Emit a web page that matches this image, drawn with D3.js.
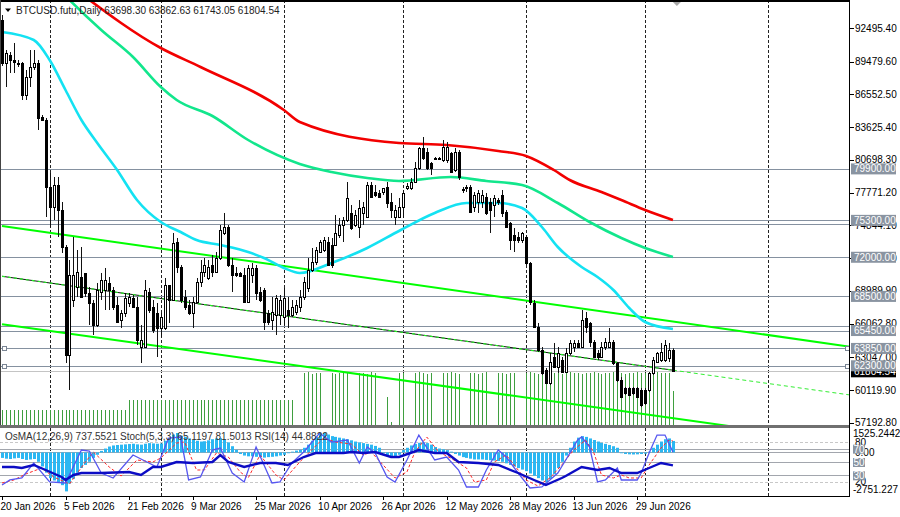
<!DOCTYPE html>
<html><head><meta charset="utf-8">
<script src="https://cdn.jsdelivr.net/npm/d3@7"></script>
<style>body{margin:0;background:#fff}svg{display:block}text{font-family:"Liberation Sans",Arial,sans-serif;font-size:10px}</style>
</head><body><svg id="c" width="900" height="517"></svg>
<script>
// ---------- DATA ----------
const symbolTitle = "BTCUSD.futu,Daily";
const startDate = "2026-01-20";
const opens = [93212,89368,90083,89636,89368,89368,86507,88116,89010,89368,84540,84272,78282,76494,78461,76226,72918,63263,68180,69342,70236,70594,68806,67912,65945,68895,69074,69700,69074,67733,66392,67018,67912,68359,67554,63978,63978,68895,67554,67018,65677,65677,69521,68180,73365,71130,68448,67733,67018,68001,69789,70683,70147,71309,70683,71935,74170,74706,71309,70594,70594,70415,68001,70415,71041,68895,69074,67018,66392,66839,66839,66660,67286,66839,67107,67554,68448,69253,70862,71577,72471,72650,73365,73097,73097,73991,74885,75332,75958,74885,74706,75958,75600,78461,77835,77746,77835,78282,76941,75600,75600,76494,78193,78193,78729,79981,81769,81411,80428,80875,80875,80696,80696,81322,79802,81411,78014,78193,78282,76494,76941,76941,77388,76941,76673,77120,77567,76047,75064,73991,73812,73544,73812,71488,67912,65766,63710,61922,60760,63084,62190,62816,61743,63442,63978,64336,63978,66571,66124,64425,63442,63084,63978,63978,64425,62548,61028,60313,60313,60313,60313,60134,60134,60134,61654,62637,62816,62816,62995,63698.30];
const highs = [93659,90530,90351,91156,89636,89457,88742,90530,90530,89636,84719,84451,79534,79176,79176,76941,73097,71756,73812,72650,72918,70594,69342,68180,69700,70594,71041,70236,69342,68448,67286,68806,68806,68627,68448,65945,69968,69253,68180,67912,67018,70147,69521,74170,73723,71309,69074,68180,68448,70147,71756,71935,71756,72203,72471,74885,75958,74885,71935,71130,70683,71041,71309,71488,71309,69342,69253,67286,68448,68627,68627,69253,68448,68180,68180,69074,70236,71935,72829,72918,73544,73812,73812,73723,75779,75511,75600,78729,76673,76226,77120,76941,78729,78729,78461,78014,78193,78729,77746,76673,77299,78014,78640,79087,80517,81858,82752,81769,80517,80964,80964,82484,82305,81411,81769,81590,78282,78461,78461,77835,78014,78014,77746,77299,77567,77299,78014,76226,75153,74617,74259,74259,73991,71577,68180,66124,63978,62101,63442,64336,63978,63084,63889,64604,64604,64604,67286,67107,66213,64604,63710,64425,64783,65677,64604,62637,61296,60402,60402,60402,60402,60313,60313,61743,63084,63531,64336,64604,64336,63862.63];
const lows = [89100,87222,88474,88474,89010,86060,86060,87222,88742,83378,84272,75600,74706,75332,73812,72382,62548,60134,67554,68448,68448,68448,65945,65051,65766,68180,67286,67286,67286,66124,65677,66660,67554,67465,64157,62548,63889,67018,65230,63084,64872,65498,66124,68180,70594,67912,67286,66839,65677,67912,69342,70236,69968,70236,70594,71756,73991,71130,68895,70236,70236,67912,67912,69700,68180,68001,65498,65945,65498,65051,65945,65945,65677,66660,66839,67107,68180,68895,70683,71309,72382,72471,71309,71041,73097,73723,73365,75153,74438,74706,73723,74885,75511,77299,77388,77388,77567,76405,75511,74885,75511,75511,78014,78014,78640,79802,80696,79802,79355,80785,80696,80517,80428,79534,79623,78908,77746,77835,75958,76047,75958,76405,75779,74170,75600,76673,75600,74617,72650,72471,73276,73276,71309,67733,65677,63531,61475,60670,60581,62101,61654,61654,61654,63263,63531,63889,63889,65230,63978,62995,62816,62995,63710,63889,62369,60849,59419,59687,59687,59687,59419,58614,58793,59955,61475,62548,62637,62637,62637,61743.05];
const closes = [89368,90262,89636,89457,89323,86507,88116,89010,89368,84451,84272,78282,76494,78461,76226,72918,63263,70415,70415,70683,68448,68806,67912,65945,69074,69968,69968,69074,67554,66213,67018,68359,68448,67554,64604,64604,69074,67286,65498,65677,66660,69521,68180,73276,71130,68180,67554,67018,68001,69789,70683,71309,71130,70683,71935,74438,74706,71309,70415,70415,70300,68001,71041,71041,68806,68180,66213,66213,67107,68359,68180,68359,66839,67554,67733,68448,69789,70862,71577,72650,73365,73544,71309,71309,74170,74885,75332,77299,74617,75779,76405,76494,78461,77388,77567,77388,78193,76852,76226,76226,76494,77746,78372,78729,79981,81769,80875,79981,79981,80830,80785,81858,81858,79623,81411,79176,78103,78282,76047,77567,77746,77567,75958,76226,77299,76941,75958,74706,73544,73544,73544,74170,71488,68001,65766,63710,61654,60760,62637,62190,63442,61743,63442,64336,64336,63978,66392,65766,64425,63084,63084,63978,64425,64425,62548,61028,59508,59866,59687,59866,59508,58793,58972,61654,62816,63442,63531,64157,63710,61804.54];
const volumes = [15,15,15,15,15,15,15,15,15,15,15,15,15,15,15,15,15,15,15,15,15,15,15,15,15,15,15,15,15,15,15,15,
25,25,25,25,25,25,25,25,25,25,25,25,25,25,25,25,25,25,25,25,25,25,25,25,25,25,25,25,25,25,25,25,25,25,25,25,25,25,25,25,25,25,
0,0,52,53,51,52,52,0,0,52,51,52,53,52,0,0,52,52,51,53,52,0,0,28,3,0,52,52,0,0,52,53,52,51,52,0,0,52,52,53,52,51,0,0,52,52,51,52,53,0,0,52,52,51,52,52,0,0,
52,53,52,51,52,52,53,52,52,51,52,53,52,52,51,52,52,53,52,51,52,52,53,52,52,51,52,52,53,52,52,51,52,53,52,52,52,34];
const osma = [-350,-400,-420,-380,-350,-420,-480,-450,-420,-600,-900,-1300,-1650,-1800,-1900,-2100,-2500,-2000,-1700,-1300,-1000,-800,-600,-350,-150,100,250,380,450,480,500,520,540,560,520,500,560,600,580,560,580,750,900,1150,1250,1070,1000,900,800,750,700,720,780,850,900,920,850,650,400,170,-100,-200,-250,-250,-280,-300,-330,-300,-280,-250,-200,-150,-50,50,120,170,300,500,750,1000,1200,1250,1150,1050,1000,950,900,850,780,700,650,600,550,500,420,300,-50,-200,-320,-300,-150,150,300,450,550,620,650,600,500,350,250,200,150,50,-100,-200,-300,-350,-400,-450,-450,-450,-480,-500,-520,-550,-600,-700,-800,-900,-1000,-1100,-1200,-1350,-1500,-1650,-1800,-1900,-1700,-1400,-1000,-600,-200,300,700,950,1050,1000,900,800,700,620,550,480,400,300,-50,-100,-120,-130,-120,-100,-80,50,300,500,700,850,900,737.5521];
// moving averages, read as [bar index, price]
const maSlow = [[20,95536],[40,90709],[50,89010],[71,85166],[75,84093],[100,82216],[112,82037],[125,81501],[132,81054],[139,79802],[143,78908],[151,77835],[156,77120],[162,76226],[169,75332]];
const maMid = [[14,96070],[17,95000],[25,92318],[33,89904],[40,87222],[44,86060],[53,84630],[62,82484],[75,80340],[83,79623],[92,79087],[100,78819],[113,79176],[122,78819],[131,78461],[140,76852],[148,75153],[156,73723],[162,72829],[169,72024]];
const maFast = [[0,92139],[8,91424],[12,89636],[16,86954],[20,84272],[24,82216],[29,79802],[34,77120],[40,75153],[45,74259],[49,73544],[55,73097],[62,72471],[66,71935],[71,71041],[75,70594],[83,71488],[92,72829],[100,74349],[109,75958],[117,76852],[125,76852],[131,76405],[136,74706],[140,72918],[146,71130],[150,70236],[154,69074],[158,67465],[162,66213],[169,65588]];
// channel lines [bar index, price]
const channelUpper = [[0,74800],[214,63990]];
const channelMid = [[0,70300],[214,59670]];
const channelLower = [[0,66010],[214,55380]];
// horizontal levels
const levelLines = [79900,75300,75000,72000,68500,65900,65450,63850,62300];
const levelLabels = [79900,75300,72000,68500,65450,63850,62300];
const selectedLevels = [63850,62300];
const lastPrice = 61804.54;
const priceTicks = ["92495.40","89479.60","86552.50","83625.40","80698.30","77771.20","74844.10","71917.00","68989.90","66062.80","63047.00","60119.90","57192.80"];
// oscillators [bar index, value]
const stochMain = [[0,15.5],[2,23],[5,26],[8,48.5],[12,20],[16,18.5],[20,68],[22,66.5],[25,33.5],[28,26],[33,60.5],[37,48.5],[39,42.5],[42,86],[45,87.5],[47,23],[50,27.5],[53,68],[55,71],[58,33.5],[61,20],[64,72.5],[68,18.5],[70,20],[73,48.5],[76,65],[80,93.5],[83,80],[87,83],[90,48.5],[92,72.5],[94,63.5],[97,27.5],[99,20],[102,53],[105,90.5],[109,53],[112,57.5],[115,38],[117,12.5],[120,12.5],[122,38],[125,68],[127,57.5],[130,33.5],[133,11],[136,12.5],[140,33.5],[142,53],[145,83],[146,87.5],[148,72.5],[150,20],[152,23],[155,41],[156,23],[160,23],[161,33.5],[163,63.5],[165,90.5],[167,90.5],[169,65.1197]];
const stochSignal = [[0,18.5],[3,23],[6,32],[10,41],[13,27.5],[17,17],[21,50],[23,65],[27,42.5],[30,29],[34,53],[38,50],[40,56],[44,78.5],[46,80],[49,38],[51,38],[54,63.5],[57,57.5],[60,35],[62,26],[65,60.5],[69,30.5],[71,23],[75,50],[78,68],[81,86],[84,80],[88,77],[91,60.5],[93,65],[96,45.5],[99,26],[102,35],[104,65],[107,87.5],[110,65],[113,56],[117,41],[119,20],[122,23],[124,50],[127,60.5],[129,45.5],[132,23],[135,14],[138,26],[141,45.5],[144,68],[147,83],[149,65],[151,30.5],[154,26],[156,30.5],[158,26],[161,26],[163,45.5],[166,71],[168,83],[169,81.5013]];
const rsi = [[0,42.5],[3,42.5],[5,41],[8,45.5],[11,38],[15,27.5],[16,23],[18,30.5],[20,33.5],[25,33.5],[32,35],[35,30.5],[38,42.5],[40,42.5],[44,50],[48,48.5],[53,50],[55,60.5],[57,50],[61,42.5],[65,48.5],[69,48.5],[72,45.5],[73,48.5],[76,57.5],[79,63.5],[83,63.5],[86,63.5],[88,65],[91,63.5],[94,65],[98,57.5],[100,57.5],[105,68],[109,63.5],[112,63.5],[115,50],[120,48.5],[125,45.5],[130,33.5],[134,23],[137,15.5],[141,26],[142,29],[146,42.5],[150,38],[153,41],[156,33.5],[160,33.5],[163,41],[166,48.5],[169,44.8822]];
const osmaRange = [-2751.227, 1525.2442];
const oscLevelsSolid = [70,50,30];
const oscLevelsDash = [80,20];
const paneTitle = "OsMA(12,26,9) 737.5521  Stoch(5,3,3) 65.1197 81.5013  RSI(14) 44.8822";

// ---------- SCALES ----------
const X_END = 214, LAST = closes.length - 1;
const x = d3.scaleLinear().domain([0, X_END]).range([2, 2 + 3.97 * X_END]);
const y = d3.scaleLinear().domain([57005, 95000]).range([425, 0]);
const yV = d3.scaleLinear().domain([0, 60]).range([425, 365]);
const yP = d3.scaleLinear().domain([0, 100]).range([495.3, 428.7]);
const yO = d3.scaleLinear().domain(osmaRange).range([495.3, 428.7]);
const start = d3.timeParse("%Y-%m-%d")(startDate);
const dateOf = i => d3.timeDay.offset(start, i);
const idxOf = d => d3.timeDay.count(start, d);
const fmt = d3.timeFormat("%-d %b %Y");
const px = v => Math.round(v) + 0.5;

const svg = d3.select("#c");
svg.append("rect").attr("width", 900).attr("height", 517).attr("fill", "#fff");
const defs = svg.append("defs");
defs.append("clipPath").attr("id", "cm").append("rect").attr("x", 0).attr("y", 2).attr("width", 850).attr("height", 423);
defs.append("clipPath").attr("id", "cp").append("rect").attr("x", 0).attr("y", 428).attr("width", 850).attr("height", 68);

const gM = svg.append("g").attr("clip-path", "url(#cm)");
const gP = svg.append("g").attr("clip-path", "url(#cp)");

// month grid lines
const months = d3.timeMonth.range(d3.timeMonth.ceil(start), dateOf(X_END + 1)).map(idxOf);
[[gM, 0, 425], [gP, 428, 496]].forEach(([g, a, b]) => {
  g.selectAll(null).data(months).join("line")
    .attr("x1", d => px(x(d))).attr("x2", d => px(x(d))).attr("y1", a).attr("y2", b)
    .attr("stroke", "#222").attr("stroke-dasharray", "3,2").attr("stroke-width", 1);
});

// volumes
gM.selectAll(null).data(volumes.map((v, i) => [i, v]).filter(d => d[1] > 0)).join("line")
  .attr("x1", d => px(x(d[0]))).attr("x2", d => px(x(d[0])))
  .attr("y1", yV(0)).attr("y2", d => yV(d[1]))
  .attr("stroke", "#3f9f3f").attr("stroke-width", 1);

// levels
gM.selectAll(null).data(levelLines).join("line")
  .attr("x1", 0).attr("x2", 850).attr("y1", d => px(y(d))).attr("y2", d => px(y(d)))
  .attr("stroke", "#8591a0").attr("stroke-width", 1);
gM.append("line").attr("x1", 0).attr("x2", 850).attr("y1", px(y(lastPrice))).attr("y2", px(y(lastPrice)))
  .attr("stroke", "#c4c4c4");

// channels
const lineGen = d3.line().x(d => x(d[0])).y(d => y(d[1]));
gM.append("path").attr("d", lineGen(channelUpper)).attr("fill", "none").attr("stroke", "#00ff00").attr("stroke-width", 2);
gM.append("path").attr("d", lineGen(channelLower)).attr("fill", "none").attr("stroke", "#00ff00").attr("stroke-width", 2);
const midAt = i => channelMid[0][1] + (channelMid[1][1] - channelMid[0][1]) * (i - channelMid[0][0]) / (channelMid[1][0] - channelMid[0][0]);
const midSolid = [channelMid[0], [LAST, midAt(LAST)]];
const midRay = [[LAST, midAt(LAST)], channelMid[1]];
gM.append("path").attr("d", lineGen(midSolid)).attr("fill", "none").attr("stroke", "#111").attr("stroke-width", 1);
gM.append("path").attr("d", lineGen(midSolid)).attr("fill", "none").attr("stroke", "#22ee22").attr("stroke-width", 1.2).attr("stroke-dasharray", "3,3");
gM.append("path").attr("d", lineGen(midRay)).attr("fill", "none").attr("stroke", "#33ee33").attr("stroke-width", 1).attr("stroke-dasharray", "4,3");

// moving averages
const maGen = d3.line().x(d => x(d[0])).y(d => y(d[1])).curve(d3.curveMonotoneX);
[[maSlow, "#f20000"], [maMid, "#12e68c"], [maFast, "#14e2f2"]].forEach(([d, c]) => {
  gM.append("path").attr("d", maGen(d)).attr("fill", "none").attr("stroke", c).attr("stroke-width", 2.6);
});

// candles
const bars = d3.range(closes.length);
gM.selectAll(null).data(bars).join("line")
  .attr("x1", i => px(x(i))).attr("x2", i => px(x(i)))
  .attr("y1", i => y(highs[i])).attr("y2", i => y(lows[i]))
  .attr("stroke", "#111").attr("stroke-width", 1);
gM.selectAll(null).data(bars).join("rect")
  .attr("x", i => Math.round(x(i)) - 0.5).attr("width", 2)
  .attr("y", i => Math.round(y(Math.max(opens[i], closes[i]))) + 0.5)
  .attr("height", i => Math.max(0.01, Math.round(Math.abs(y(opens[i]) - y(closes[i])))))
  .attr("fill", i => closes[i] >= opens[i] ? "#fff" : "#000")
  .attr("stroke", "#000").attr("stroke-width", 1);

// selected level squares
selectedLevels.forEach(v => {
  [2, 845].forEach(xx => {
    gM.append("rect").attr("x", xx + 0.5).attr("y", Math.round(y(v)) - 1.5).attr("width", 4).attr("height", 4)
      .attr("fill", "#fff").attr("stroke", "#7a8594");
  });
});

// shift marker
svg.append("path").attr("d", d3.line()([[x(LAST + 1) - 4, 2], [x(LAST + 1) + 4, 2], [x(LAST + 1), 6]]) + "Z").attr("fill", "#a8a8a8");

// ---------- PANE ----------
gP.selectAll(null).data(oscLevelsDash).join("line")
  .attr("x1", 0).attr("x2", 850).attr("y1", d => px(yP(d))).attr("y2", d => px(yP(d)))
  .attr("stroke", "#c8c8c8").attr("stroke-dasharray", "3,2");
gP.selectAll(null).data(oscLevelsSolid).join("line")
  .attr("x1", 0).attr("x2", 850).attr("y1", d => px(yP(d))).attr("y2", d => px(yP(d)))
  .attr("stroke", "#a2a6ad").attr("stroke-width", 1);
gP.append("line").attr("x1", 0).attr("x2", 850).attr("y1", px(yO(0))).attr("y2", px(yO(0))).attr("stroke", "#a2a6ad");
gP.selectAll(null).data(osma.map((v, i) => [i, v])).join("rect")
  .attr("x", d => Math.round(x(d[0])) - 1).attr("width", 3)
  .attr("y", d => Math.min(yO(0), yO(d[1]))).attr("height", d => Math.abs(yO(d[1]) - yO(0)))
  .attr("fill", "#2bb7f2");
const oscGen = d3.line().x(d => x(d[0])).y(d => yP(d[1]));
gP.append("path").attr("d", oscGen(stochSignal)).attr("fill", "none").attr("stroke", "#ff2a2a").attr("stroke-width", 1).attr("stroke-dasharray", "3,2");
gP.append("path").attr("d", oscGen(stochMain)).attr("fill", "none").attr("stroke", "#5656f0").attr("stroke-width", 1.3);
gP.append("path").attr("d", oscGen(rsi)).attr("fill", "none").attr("stroke", "#0c0cc4").attr("stroke-width", 2.4);

// ---------- FRAMES ----------
svg.append("line").attr("x1", 0).attr("x2", 850).attr("y1", 1).attr("y2", 1).attr("stroke", "#000").attr("stroke-width", 2);
svg.append("line").attr("x1", 0.5).attr("x2", 0.5).attr("y1", 0).attr("y2", 425).attr("stroke", "#444");
svg.append("rect").attr("x", 0).attr("y", 425).attr("width", 850).attr("height", 3).attr("fill", "#707070");
svg.append("line").attr("x1", 849.5).attr("x2", 849.5).attr("y1", 0).attr("y2", 496.5).attr("stroke", "#000");
svg.append("line").attr("x1", 0).attr("x2", 850).attr("y1", 496.5).attr("y2", 496.5).attr("stroke", "#000");

// ---------- PRICE AXIS ----------
const ax = svg.append("g");
priceTicks.forEach(t => {
  const yy = y(+t);
  ax.append("line").attr("x1", 850).attr("x2", 854).attr("y1", px(yy)).attr("y2", px(yy)).attr("stroke", "#000");
  ax.append("text").attr("x", 855).attr("y", yy + 3.5).attr("fill", "#000").text(t);
});
ax.append("rect").attr("x", 851).attr("y", y(lastPrice) - 5).attr("width", 45).attr("height", 11).attr("fill", "#000");
ax.append("text").attr("x", 854).attr("y", y(lastPrice) + 4).attr("fill", "#fff").text(lastPrice.toFixed(2));
levelLabels.forEach(v => {
  ax.append("rect").attr("x", 851).attr("y", y(v) - 5.5).attr("width", 45).attr("height", 11).attr("fill", "#8a94a1");
  ax.append("text").attr("x", 854).attr("y", y(v) + 3.5).attr("fill", "#fff").text(v.toFixed(2));
});

// pane axis
ax.append("text").attr("x", 853).attr("y", yO(osmaRange[1]) + 8.5).attr("fill", "#000").text("1525.2442");
ax.append("text").attr("x", 853).attr("y", yO(osmaRange[0]) - 2).attr("fill", "#000").text("-2751.227");
ax.append("text").attr("x", 855).attr("y", yO(0) + 3.5).attr("fill", "#000").text("0.00");
oscLevelsDash.forEach(v => ax.append("text").attr("x", 855).attr("y", yP(v) + 3.5).attr("fill", "#000").text(v));
oscLevelsSolid.forEach(v => {
  ax.append("rect").attr("x", 853).attr("y", yP(v) - 4).attr("width", 12).attr("height", 9).attr("fill", "#8a94a1");
  ax.append("text").attr("x", 853.5).attr("y", yP(v) + 4).attr("fill", "#fff").text(v);
});

// ---------- TIME AXIS ----------
const dateTicks = d3.range(0, closes.length, 16);
dateTicks.forEach(i => {
  svg.append("line").attr("x1", px(x(i))).attr("x2", px(x(i))).attr("y1", 496).attr("y2", 500).attr("stroke", "#000");
  svg.append("text").attr("x", x(i) - 1.5).attr("y", 509.5).attr("fill", "#000").text(fmt(dateOf(i)));
});

// ---------- TITLES ----------
svg.append("path").attr("d", "M5,8.5L11,8.5L8,12Z").attr("fill", "#000");
svg.append("text").attr("x", 16).attr("y", 13.5).attr("fill", "#222").text(symbolTitle + "  " + [opens[LAST], highs[LAST], lows[LAST], closes[LAST]].map(v => v.toFixed(2)).join(" "));
svg.append("text").attr("x", 5).attr("y", 440).attr("fill", "#333").text(paneTitle);
</script></body></html>
